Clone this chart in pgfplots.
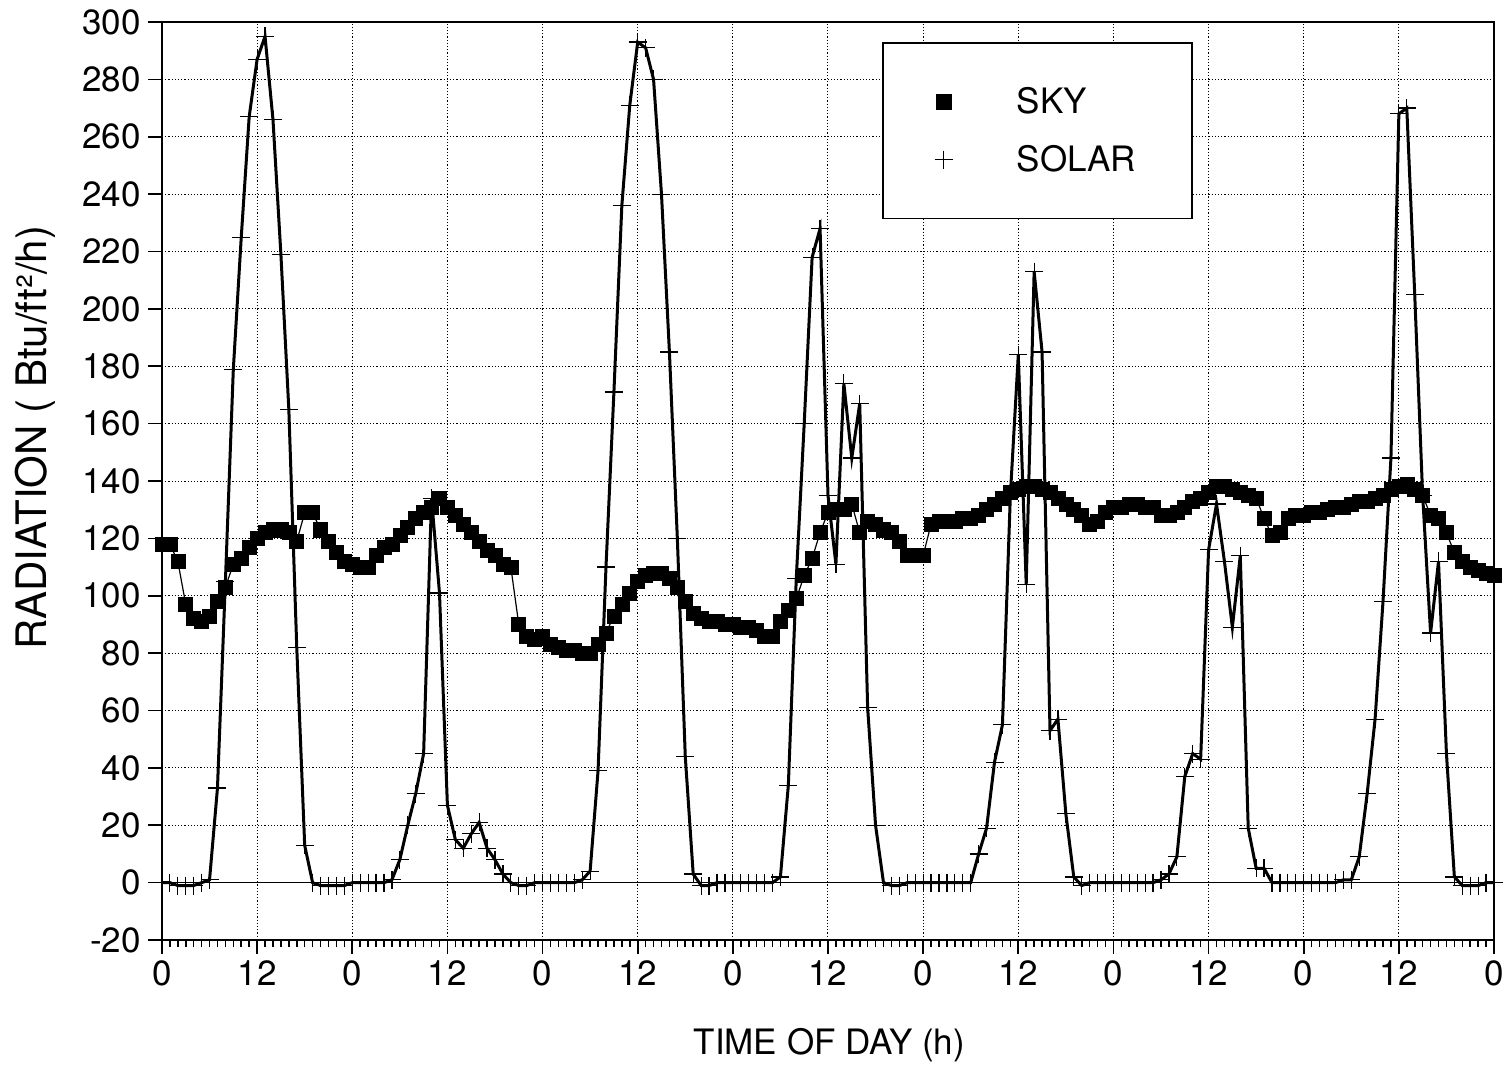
\documentclass[border=0pt]{standalone}
\usepackage{fontspec}
\setmainfont{TeX Gyre Heros}
\usepackage{pgfplots}
\pgfplotsset{compat=1.18}
\usepackage{pgfplotstable}

\pgfplotstableread{
h v
0 118
1 118
2 112
3 97
4 92
5 91
6 93
7 98
8 103
9 111
10 113
11 117
12 120
13 122
14 123
15 123
16 122
17 119
18 129
19 129
20 123
21 119
22 115
23 112
24 111
25 110
26 110
27 114
28 117
29 118
30 121
31 124
32 127
33 129
34 131
35 134
36 131
37 128
38 125
39 122
40 119
41 116
42 114
43 111
44 110
45 90
46 86
47 85
48 86
49 83
50 82
51 81
52 81
53 80
54 80
55 83
56 87
57 93
58 97
59 101
60 105
61 107
62 108
63 108
64 106
65 103
66 98
67 94
68 92
69 91
70 91
71 90
72 90
73 89
74 89
75 88
76 86
77 86
78 91
79 95
80 99
81 107
82 113
83 122
84 129
85 130
86 130
87 132
88 122
89 126
90 125
91 123
92 122
93 119
94 114
95 114
96 114
97 125
98 126
99 126
100 126
101 127
102 127
103 128
104 130
105 132
106 134
107 136
108 137
109 138
110 138
111 137
112 136
113 134
114 132
115 130
116 128
117 125
118 126
119 129
120 131
121 131
122 132
123 132
124 131
125 131
126 128
127 128
128 129
129 131
130 133
131 134
132 136
133 138
134 138
135 137
136 136
137 135
138 134
139 127
140 121
141 122
142 127
143 128
144 128
145 129
146 129
147 130
148 131
149 131
150 132
151 133
152 133
153 134
154 135
155 137
156 138
157 139
158 137
159 135
160 128
161 127
162 122
163 115
164 112
165 110
166 109
167 108
168 107
}\sky

\pgfplotstableread{
h v
0 0
1 0
2 -1
3 -1
4 -1
5 0
6 1
7 33
8 105
9 179
10 225
11 267
12 287
13 295
14 266
15 219
16 165
17 82
18 13
19 0
20 -1
21 -1
22 -1
23 -1
24 0
25 0
26 0
27 0
28 0
29 1
30 8
31 20
32 31
33 45
34 134
35 101
36 27
37 15
38 12
39 17
40 21
41 12
42 8
43 3
44 0
45 -1
46 -1
47 0
48 0
49 0
50 0
51 0
52 0
53 1
54 4
55 39
56 110
57 171
58 236
59 271
60 293
61 291
62 280
63 240
64 185
65 120
66 44
67 3
68 -1
69 -1
70 0
71 0
72 0
73 0
74 0
75 0
76 0
77 0
78 2
79 34
80 106
81 160
82 218
83 228
84 135
85 111
86 174
87 148
88 167
89 61
90 20
91 0
92 -1
93 -1
94 0
95 0
96 0
97 0
98 0
99 0
100 0
101 0
102 0
103 10
104 19
105 42
106 55
107 135
108 184
109 104
110 213
111 185
112 53
113 57
114 24
115 2
116 -1
117 0
118 0
119 0
120 0
121 0
122 0
123 0
124 0
125 0
126 1
127 3
128 9
129 37
130 45
131 43
132 116
133 132
134 112
135 89
136 114
137 19
138 5
139 5
140 0
141 0
142 0
143 0
144 0
145 0
146 0
147 0
148 0
149 1
150 1
151 9
152 31
153 57
154 98
155 148
156 268
157 270
158 205
159 135
160 87
161 112
162 45
163 2
164 -1
165 -1
166 -1
167 0
168 0
}\solar

\begin{document}
\begin{tikzpicture}
\begin{axis}[
  scale only axis,
  width=666pt, height=459pt,
  xmin=0, xmax=168, ymin=-20, ymax=300,
  xtick={0,12,...,168},
  xticklabels={0,12,0,12,0,12,0,12,0,12,0,12,0,12,0},
  minor x tick num=11,
  ytick={-20,0,...,300},
  grid=major,
  major grid style={black, line width=0.5pt, dash pattern=on 0.6pt off 1pt},
  axis line style={black, line width=1.2pt},
  tick style={black, line width=0.8pt},
  tick align=outside,
  tick pos=left,
  major tick length=7pt, minor tick length=3.5pt,
  /pgf/number format/assume math mode=true,
  tick label style={font=\fontsize{17.5}{20}\selectfont},
  xlabel style={font=\fontsize{17.5}{20}\selectfont},
  ylabel style={font=\fontsize{21}{24}\selectfont},
  xlabel={TIME OF DAY (h)},
  ylabel={RADIATION ( Btu/ft²/h)},
  xlabel style={at={(axis description cs:0.501,-0.114)}, anchor=center},
  ylabel style={at={(axis description cs:-0.0953,0.547)}, anchor=center},
  legend style={at={(axis description cs:0.5405,0.978)}, anchor=north west,
    draw=black, line width=0.8pt, fill=white,
    font=\fontsize{17.5}{20}\selectfont,
    inner xsep=26pt, inner ysep=20pt, row sep=10.5pt,
    /tikz/every odd column/.append style={column sep=30pt}},
  legend cell align=left,
]
\addplot[black, line width=0.7pt, forget plot] coordinates {(0,0) (168,0)};
\addplot[black, line width=0.6pt, mark=square*, mark size=3.5pt,
  mark options={solid, fill=black, draw=black, line width=0.3pt}, forget plot]
  table[x=h, y=v] {\sky};
\addplot[black, line width=1.5pt, mark=+, mark size=4.5pt,
  mark options={solid, line width=0.6pt}, forget plot]
  table[x=h, y=v] {\solar};
\addlegendimage{only marks, mark=square*, mark size=3.6pt, black}
\addlegendentry{SKY}
\addlegendimage{only marks, mark=+, mark size=4.5pt, black, mark options={line width=0.5pt}}
\addlegendentry{SOLAR\hspace{-5.5pt}}
\coordinate (bbl) at (rel axis cs:-0.1216,-0.1383);
\coordinate (btr) at (rel axis cs:1.009,1.024);
\end{axis}
\pgfresetboundingbox
\path (bbl) rectangle (btr);
\end{tikzpicture}
\end{document}
